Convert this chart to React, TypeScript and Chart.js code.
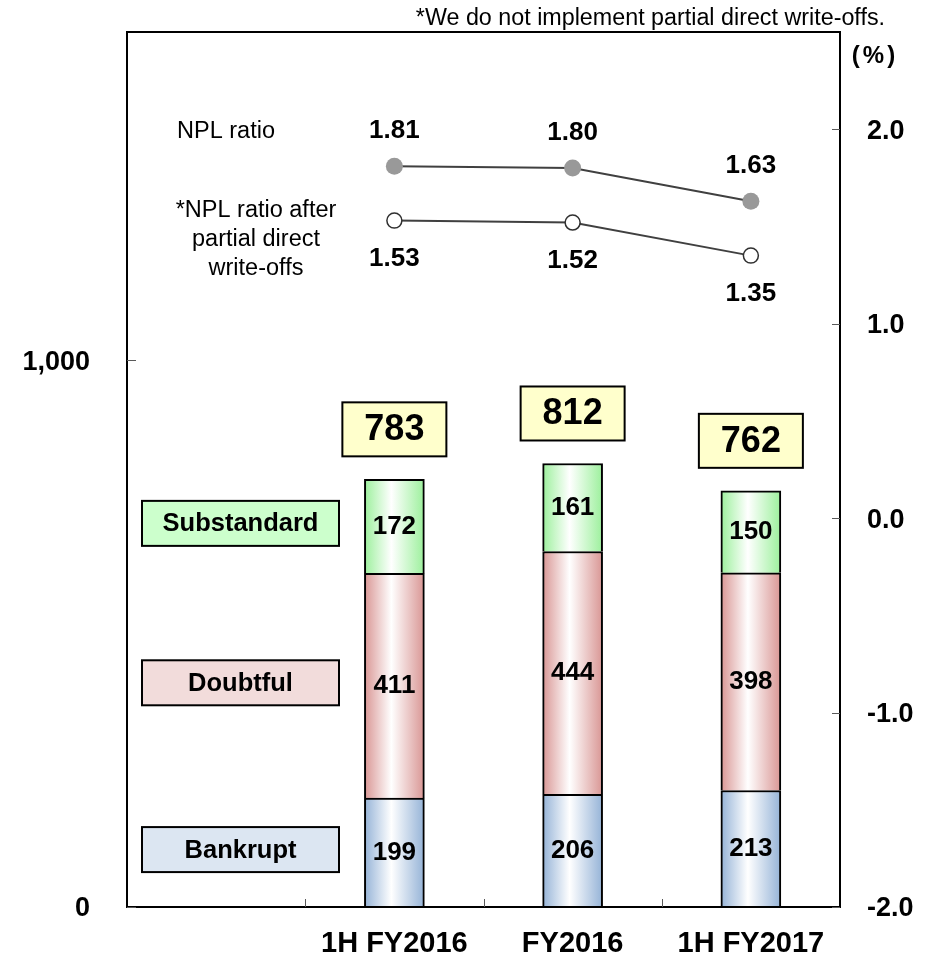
import React, { useEffect, useRef } from 'react';
import { Chart, registerables } from 'chart.js';

Chart.register(...registerables);

const FONT = '"Liberation Sans", Arial, sans-serif';

const categories = ['', '1H FY2016', 'FY2016', '1H FY2017'];
const bankrupt = [null, 199, 206, 213];
const doubtful = [null, 411, 444, 398];
const substandard = [null, 172, 161, 150];
const totals = [null, 783, 812, 762];
const nplRatio = [null, 1.81, 1.8, 1.63];
const nplRatioAfter = [null, 1.53, 1.52, 1.35];
const leftTicks = [0, 1000];
const rightTicks = [-2, -1, 0, 1, 2];
const seriesNames = ['Bankrupt', 'Doubtful', 'Substandard'];
const seriesEdge = ['#95B3D7', '#D99694', '#9CF09C'];
const seriesLegendFill = ['#DCE6F2', '#F2DCDB', '#CCFFCC'];
const nplLabel = 'NPL ratio';
const nplAfterLabel = ['*NPL ratio after', 'partial direct', 'write-offs'];
const footnote = '*We do not implement partial direct write-offs.';
const unitLabel = '(%)';

const gradFill = (edge: string) => (c: any) => {
  const chart = c.chart;
  const xs = chart.scales && chart.scales.x;
  if (!xs || c.dataIndex == null) return edge;
  const cx = xs.getPixelForValue(c.dataIndex);
  if (!Number.isFinite(cx)) return edge;
  const g = chart.ctx.createLinearGradient(cx - 30, 0, cx + 30, 0);
  g.addColorStop(0, edge);
  g.addColorStop(0.45, '#ffffff');
  g.addColorStop(1, edge);
  return g;
};

const overlay = {
  id: 'overlay',
  afterDraw(chart: any) {
    const ctx = chart.ctx;
    const { left, right, top, bottom } = chart.chartArea;
    const xs = chart.scales.x;
    const ys = chart.scales.y;
    const y2 = chart.scales.y2;
    ctx.save();
    // frame
    ctx.strokeStyle = '#000';
    ctx.lineWidth = 2;
    ctx.strokeRect(left, top, right - left, bottom - top);
    // tick marks
    ctx.strokeStyle = '#595959';
    ctx.lineWidth = 1;
    ctx.beginPath();
    leftTicks.forEach((v) => {
      const y = Math.round(ys.getPixelForValue(v)) + 0.5;
      ctx.moveTo(left, y);
      ctx.lineTo(left + 9, y);
    });
    rightTicks.forEach((v) => {
      const y = Math.round(y2.getPixelForValue(v)) + 0.5;
      ctx.moveTo(right - 8, y);
      ctx.lineTo(right, y);
    });
    for (let i = 0; i < categories.length - 1; i++) {
      const x = Math.round((xs.getPixelForValue(i) + xs.getPixelForValue(i + 1)) / 2) + 0.5;
      ctx.moveTo(x, bottom);
      ctx.lineTo(x, bottom - 8);
    }
    ctx.stroke();

    ctx.fillStyle = '#000';
    ctx.textAlign = 'center';
    ctx.textBaseline = 'middle';

    // bar value labels
    for (let d = 0; d < 3; d++) {
      const meta = chart.getDatasetMeta(d);
      const data = chart.data.datasets[d].data;
      meta.data.forEach((el: any, i: number) => {
        if (data[i] == null) return;
        ctx.font = `bold 26px ${FONT}`;
        ctx.fillStyle = '#000';
        ctx.fillText(String(data[i]), el.x, (el.y + el.base) / 2);
      });
    }

    // total boxes
    const topMeta = chart.getDatasetMeta(2);
    totals.forEach((t, i) => {
      if (t == null) return;
      const el = topMeta.data[i];
      const w = 104;
      const h = 54;
      const by = el.y - 23 - h;
      ctx.fillStyle = '#FFFFCC';
      ctx.fillRect(el.x - w / 2, by, w, h);
      ctx.strokeStyle = '#000';
      ctx.lineWidth = 2;
      ctx.strokeRect(el.x - w / 2, by, w, h);
      ctx.fillStyle = '#000';
      ctx.font = `bold 36px ${FONT}`;
      ctx.fillText(String(t), el.x, by + h / 2 + 1);
    });

    // legend boxes aligned with the first bar's segments
    const firstIdx = 1;
    for (let d = 0; d < 3; d++) {
      const el = chart.getDatasetMeta(d).data[firstIdx];
      const cy = (el.y + el.base) / 2 - 3;
      const bx = left + 15;
      const bw = 197;
      const bh = 45;
      ctx.fillStyle = seriesLegendFill[d];
      ctx.fillRect(bx, cy - bh / 2, bw, bh);
      ctx.strokeStyle = '#000';
      ctx.lineWidth = 2;
      ctx.strokeRect(bx, cy - bh / 2, bw, bh);
      ctx.fillStyle = '#000';
      ctx.font = `bold 25.5px ${FONT}`;
      ctx.fillText(seriesNames[d], bx + bw / 2, cy + 1);
    }

    // line value labels
    const m1 = chart.getDatasetMeta(3);
    const m2 = chart.getDatasetMeta(4);
    ctx.font = `bold 26px ${FONT}`;
    m1.data.forEach((pt: any, i: number) => {
      if (nplRatio[i] == null) return;
      ctx.fillText(nplRatio[i]!.toFixed(2), pt.x, pt.y - 35);
    });
    m2.data.forEach((pt: any, i: number) => {
      if (nplRatioAfter[i] == null) return;
      ctx.fillText(nplRatioAfter[i]!.toFixed(2), pt.x, pt.y + 38);
    });

    // series annotations
    ctx.font = `23.5px ${FONT}`;
    const yN = y2.getPixelForValue(nplRatio[1] as number);
    ctx.fillText(nplLabel, left + 99, yN - 35);
    const yA = y2.getPixelForValue(nplRatioAfter[1] as number);
    nplAfterLabel.forEach((s, k) => {
      ctx.fillText(s, left + 129, yA - 10 + k * 29);
    });

    // footnote
    ctx.font = `23.3px ${FONT}`;
    ctx.textAlign = 'right';
    ctx.fillText(footnote, right + 45, top - 13);

    // unit
    ctx.textAlign = 'center';
    ctx.font = `bold 24px ${FONT}`;
    (ctx as any).letterSpacing = '3px';
    ctx.fillText(unitLabel, right + 35, top + 24);
    (ctx as any).letterSpacing = '0px';
    ctx.restore();
  },
};

export default function App() {
  const ref = useRef<HTMLCanvasElement | null>(null);
  useEffect(() => {
    if (!ref.current) return;
    const tickFont = { family: FONT, size: 27, weight: 'bold' as const };
    const chart = new Chart(ref.current, {
      type: 'bar',
      data: {
        labels: categories,
        datasets: [
          { label: seriesNames[0], data: bankrupt, backgroundColor: gradFill(seriesEdge[0]), borderColor: '#000', borderWidth: 2, barThickness: 60, yAxisID: 'y', stack: 's' } as any,
          { label: seriesNames[1], data: doubtful, backgroundColor: gradFill(seriesEdge[1]), borderColor: '#000', borderWidth: 2, barThickness: 60, yAxisID: 'y', stack: 's' } as any,
          { label: seriesNames[2], data: substandard, backgroundColor: gradFill(seriesEdge[2]), borderColor: '#000', borderWidth: 2, barThickness: 60, yAxisID: 'y', stack: 's' } as any,
          { type: 'line', label: nplLabel, data: nplRatio, yAxisID: 'y2', borderColor: '#404040', borderWidth: 2, pointRadius: 8.5, pointBackgroundColor: '#999999', pointBorderColor: '#999999', pointBorderWidth: 0, tension: 0 } as any,
          { type: 'line', label: nplAfterLabel.join(' '), data: nplRatioAfter, yAxisID: 'y2', borderColor: '#404040', borderWidth: 2, pointRadius: 7.5, pointBackgroundColor: '#ffffff', pointBorderColor: '#303030', pointBorderWidth: 1.5, tension: 0 } as any,
        ],
      },
      options: {
        responsive: false,
        animation: false,
        events: [],
        layout: { padding: { top: 32, left: 0, right: 0, bottom: 0 } },
        plugins: { legend: { display: false }, tooltip: { enabled: false } },
        scales: {
          x: {
            type: 'category',
            offset: true,
            stacked: true,
            grid: { display: false, drawTicks: false },
            border: { display: false },
            ticks: { color: '#000', font: { family: FONT, size: 29, weight: 'bold' }, padding: 20, maxRotation: 0, autoSkip: false },
            afterFit: (s: any) => { s.height = 48; s.paddingLeft = 0; s.paddingRight = 0; },
          },
          y: {
            position: 'left',
            stacked: true,
            min: 0,
            max: 1600,
            grid: { display: false, drawTicks: false },
            border: { display: false },
            afterBuildTicks: (s: any) => { s.ticks = leftTicks.map((v) => ({ value: v })); },
            ticks: { color: '#000', font: tickFont, padding: 37, labelOffset: 2, callback: (v: any) => Number(v).toLocaleString('en-US') },
            afterFit: (s: any) => { s.width = 127; s.paddingTop = 0; s.paddingBottom = 0; },
          },
          y2: {
            position: 'right',
            min: -2,
            max: 2.5,
            grid: { display: false, drawTicks: false },
            border: { display: false },
            afterBuildTicks: (s: any) => { s.ticks = rightTicks.map((v) => ({ value: v })); },
            ticks: { color: '#000', font: tickFont, padding: 27, labelOffset: 2, callback: (v: any) => Number(v).toFixed(1) },
            afterFit: (s: any) => { s.width = 93; s.paddingTop = 0; s.paddingBottom = 0; },
          },
        },
      } as any,
      plugins: [overlay],
    });
    return () => chart.destroy();
  }, []);
  return (
    <div style={{ position: 'absolute', left: 0, top: 0, width: 933, height: 955, background: '#fff' }}>
      <canvas ref={ref} width={933} height={955} style={{ width: 933, height: 955, display: 'block' }} />
    </div>
  );
}
